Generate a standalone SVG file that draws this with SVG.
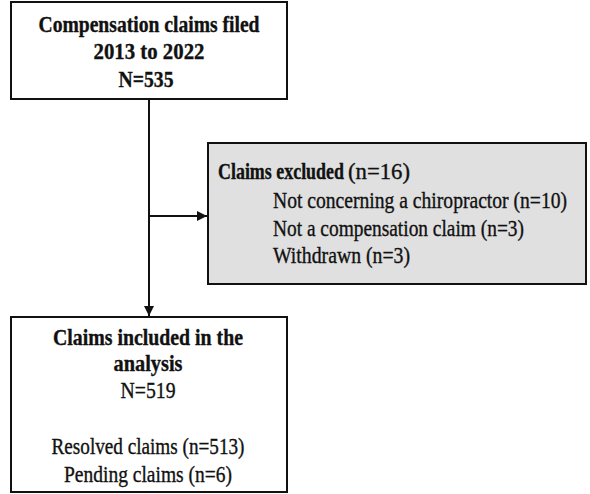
<svg xmlns="http://www.w3.org/2000/svg" width="590" height="494" viewBox="0 0 590 494">
<style>
.box{fill:#fff;stroke:#111;stroke-width:2}
.gbox{fill:#e0e0e0;stroke:#111;stroke-width:2}
.t{font-family:"Liberation Serif","DejaVu Serif",serif;font-size:22.5px;fill:#111;stroke:#111;stroke-width:0.35}
.b{font-weight:bold}
.c{text-anchor:middle}
.ln{stroke:#111;stroke-width:2;fill:none}
</style>
<defs>
<marker id="ah" viewBox="0 0 10 10" refX="10" refY="5" markerWidth="5" markerHeight="5" orient="auto" markerUnits="strokeWidth">
<path d="M0,0 L10,5 L0,10 z" fill="#111"/>
</marker>
</defs>
<rect width="590" height="494" fill="#fff"/>
<g id="connectors">
<line class="ln" x1="149" y1="99" x2="149" y2="316" marker-end="url(#ah)"/>
<line class="ln" x1="149" y1="216" x2="207" y2="216" marker-end="url(#ah)"/>
</g>
<g id="node-filed">
<rect class="box" x="11" y="2" width="276" height="97"/>
<text class="t b c" transform="translate(149,32) scale(0.87,1)" textLength="254" lengthAdjust="spacingAndGlyphs">Compensation claims filed</text>
<text class="t b c" transform="translate(149,59) scale(0.87,1)" textLength="127.6" lengthAdjust="spacingAndGlyphs">2013 to 2022</text>
<text class="t b c" transform="translate(146,87) scale(0.87,1)" textLength="63.2" lengthAdjust="spacingAndGlyphs">N=535</text>
</g>
<g id="node-excluded">
<rect class="gbox" x="208" y="143" width="378" height="141"/>
<text class="t b" transform="translate(218,179) scale(0.8,1)" textLength="157.5" lengthAdjust="spacingAndGlyphs">Claims excluded</text>
<text class="t" transform="translate(348,179) scale(0.87,1)" textLength="71.3" lengthAdjust="spacingAndGlyphs">(n=16)</text>
<text class="t" transform="translate(273,208) scale(0.87,1)" textLength="338" lengthAdjust="spacingAndGlyphs">Not concerning a chiropractor (n=10)</text>
<text class="t" transform="translate(273,236) scale(0.87,1)" textLength="288.5" lengthAdjust="spacingAndGlyphs">Not a compensation claim (n=3)</text>
<text class="t" transform="translate(273,263) scale(0.87,1)" textLength="157.5" lengthAdjust="spacingAndGlyphs">Withdrawn (n=3)</text>
</g>
<g id="node-included">
<rect class="box" x="11" y="317" width="276" height="175"/>
<text class="t b c" transform="translate(148,345) scale(0.87,1)" textLength="218.4" lengthAdjust="spacingAndGlyphs">Claims  included in the</text>
<text class="t b c" transform="translate(148,371) scale(0.87,1)" textLength="79.3" lengthAdjust="spacingAndGlyphs">analysis</text>
<text class="t c" transform="translate(148,398) scale(0.87,1)" textLength="63.2" lengthAdjust="spacingAndGlyphs">N=519</text>
<text class="t c" transform="translate(148,454) scale(0.87,1)" textLength="221.8" lengthAdjust="spacingAndGlyphs">Resolved claims (n=513)</text>
<text class="t c" transform="translate(148,482) scale(0.87,1)" textLength="193.1" lengthAdjust="spacingAndGlyphs">Pending claims (n=6)</text>
</g>
</svg>
